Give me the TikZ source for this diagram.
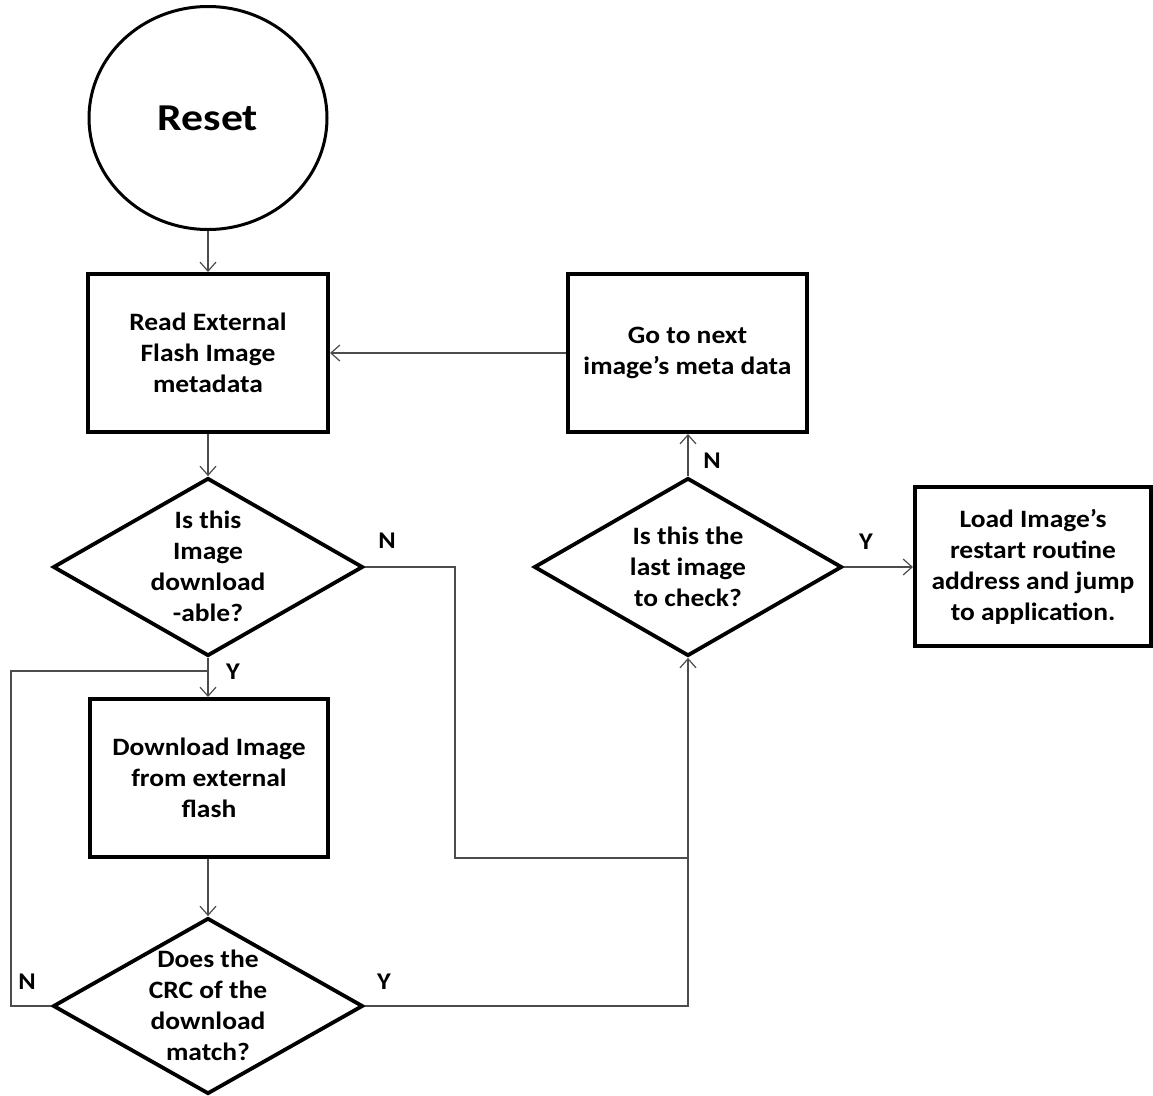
\documentclass[tikz,border=0pt]{standalone}
\usepackage{fontspec}
\setmainfont{Carlito}
\newfontfamily\diafont{Carlito}[FakeStretch=1.1]
\newfontfamily\resetfont{Carlito}[FakeStretch=1.15]
\usetikzlibrary{shapes.geometric,arrows.meta}
\begin{document}
\begin{tikzpicture}[x=1pt,y=-1pt,
  txt/.style={font=\diafont\fontsize{25}{31}\selectfont\bfseries,align=center,inner sep=0pt},
  procbox/.style={draw,line width=4pt,inner sep=0pt,txt},
  decide/.style={draw,diamond,line width=3.8pt,inner sep=0pt},
  lbl/.style={font=\diafont\fontsize{24}{26}\selectfont\bfseries,inner sep=0pt},
  conn/.style={draw=black!70,line width=1.4pt},
  flow/.style={conn,-{Straight Barb[length=9pt,width=16pt,line width=1.2pt]}}
]
\useasboundingbox (0,0) rectangle (1153,1095);

% start circle
\node[draw,ellipse,line width=3pt,minimum width=238pt,minimum height=223pt,inner sep=0pt,
      font=\resetfont\fontsize{38}{40}\selectfont\bfseries] (reset) at (208,118) {Reset};

% process boxes
\node[procbox,minimum width=240pt,minimum height=158pt] (read) at (208,353)
  {Read External\\Flash Image\\metadata};
\node[procbox,minimum width=239pt,minimum height=158pt] (next) at (687.5,353)
  {Go to next\\image’s meta data};
\node[procbox,minimum width=238pt,minimum height=158pt] (dl) at (209,778)
  {Download Image\\from external\\flash};
\node[procbox,minimum width=236pt,minimum height=159pt] (load) at (1033,566.5)
  {Load Image’s\\restart routine\\address and jump\\to application.};

% decisions (outline and text kept apart so the text may touch the edges)
\node[decide,minimum width=310pt,minimum height=178pt] (dq1) at (208,567) {};
\node[txt] (dq1t) at (208,566) {Is this\\Image\\download\\-able?};
\node[decide,minimum width=310pt,minimum height=176pt] (dq2) at (208,1006) {};
\node[txt] (dq2t) at (208,1005) {Does the\\CRC of the\\download\\match?};
\node[decide,minimum width=308pt,minimum height=178pt] (dq3) at (688,567) {};
\node[txt] (dq3t) at (688,567) {Is this the\\last image\\to check?};

% route points
\coordinate (nA) at (455,567);
\coordinate (nB) at (455,858);
\coordinate (join) at (688,858);
\coordinate (yA) at (688,1006);
\coordinate (lA) at (11,1006);
\coordinate (lB) at (11,671);
\coordinate (lC) at (208,671);

% connectors
\draw[flow] (reset.south) -- (read.north);
\draw[flow] (read.south) -- (dq1.north);
\draw[flow] (dq1.south) -- (dl.north -| dq1.south);
\draw[flow] (dl.south -| dq2.north) -- (dq2.north);
\draw[flow] (next.west) -- (read.east);
\draw[flow] (dq3.north) -- (next.south -| dq3.north);
\draw[flow] (dq3.east) -- (load.west |- dq3.east);
\draw[conn] (dq1.east) -- (nA) -- (nB) -- (join);
\draw[flow] (dq2.east) -- (yA) -- (dq3.south);
\draw[conn] (dq2.west) -- (lA) -- (lB) -- (lC);

% branch labels
\node[lbl] (y1) at (233,672) {Y};
\node[lbl] (n1) at (387,541) {N};
\node[lbl] (n2) at (27,982) {N};
\node[lbl] (y2) at (384,982) {Y};
\node[lbl] (n3) at (712,461) {N};
\node[lbl] (y3) at (866,542) {Y};
\end{tikzpicture}
\end{document}
